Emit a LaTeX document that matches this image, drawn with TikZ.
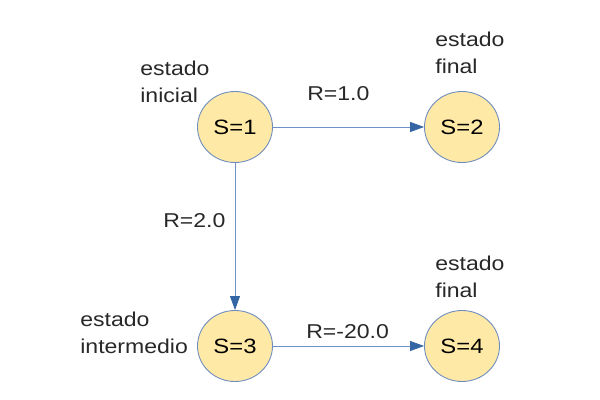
\documentclass[tikz,border=0pt]{standalone}
\usepackage{fontspec}
\setmainfont{Liberation Sans}[FakeStretch=1.15]
\usetikzlibrary{arrows.meta,shapes.geometric}
\definecolor{statefill}{RGB}{255,233,166}
\definecolor{stateline}{RGB}{110,140,190}
\definecolor{edgeblue}{RGB}{52,101,164}
\definecolor{edgeline}{RGB}{110,145,200}
\definecolor{inkgray}{RGB}{40,40,40}

\begin{document}
\begin{tikzpicture}[
  state/.style={ellipse,draw=stateline,fill=statefill,line width=0.5pt,minimum width=1.5cm,minimum height=1.42cm,inner sep=0pt,font=\fontsize{11.8}{14}\selectfont},
  trans/.style={-{Triangle[length=2.8mm,width=2mm,color=edgeblue]},edgeline,line width=0.5pt},
  note/.style={anchor=base west,align=left,inner sep=0pt,text=inkgray,font=\fontsize{11.4}{15.4}\selectfont}]
\useasboundingbox (0,0) rectangle (12,8);
% states
\node[state] (s1) at (4.7,5.46) {S=1};
\node[state] (s2) at (9.24,5.46) {S=2};
\node[state] (s3) at (4.7,1.08) {S=3};
\node[state] (s4) at (9.24,1.08) {S=4};
% transitions
\draw[trans] (s1) -- (s2);
\draw[trans] (s1) -- (s3);
\draw[trans] (s3) -- (s4);
% rewards
\node[note] (r12) at (6.14,5.98) {R=1.0};
\node[note] (r13) at (3.26,3.44) {R=2.0};
\node[note] (r34) at (6.12,1.22) {R=-20.0};
% state notes
\node[note] (n1) at (2.8,5.94) {estado\\inicial};
\node[note] (n2) at (8.7,6.52) {estado\\final};
\node[note] (n3) at (1.6,0.92) {estado\\intermedio};
\node[note] (n4) at (8.7,2.04) {estado\\final};
\end{tikzpicture}
\end{document}
